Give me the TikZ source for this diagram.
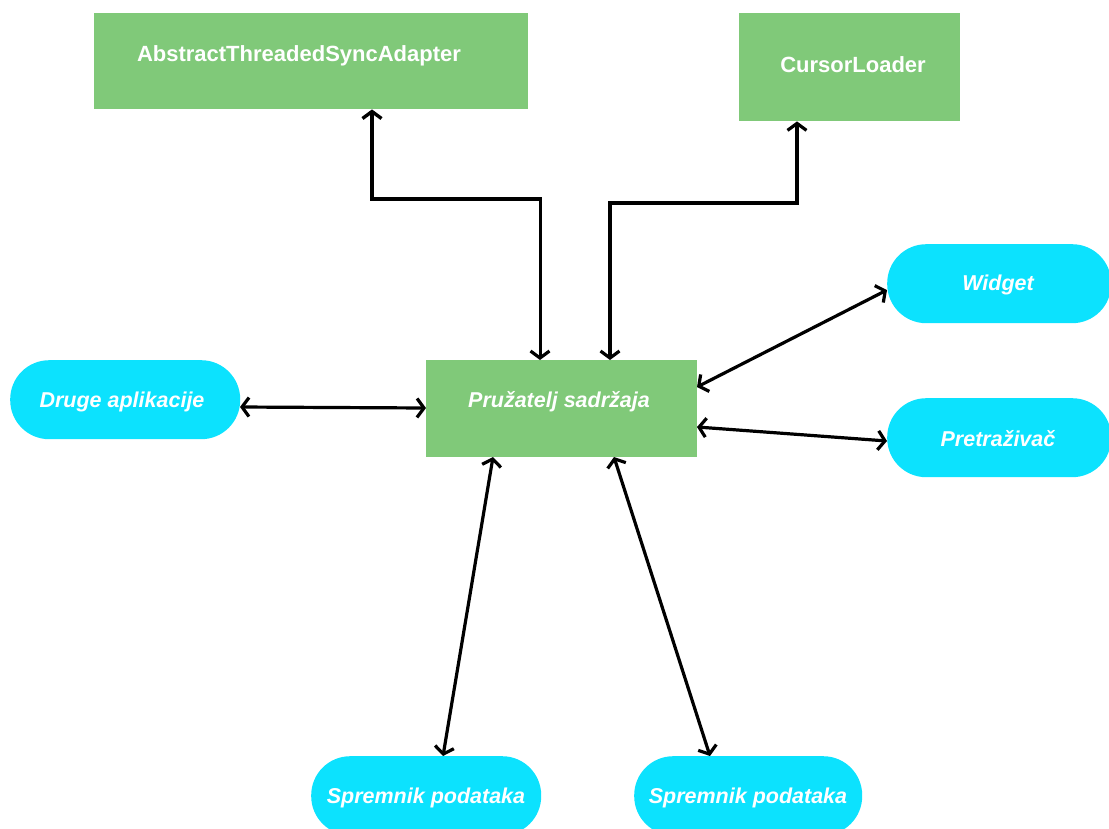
\documentclass[tikz,border=0pt]{standalone}
\usepackage{fontspec}
\setmainfont{Liberation Sans}
\usetikzlibrary{arrows.meta}
\definecolor{boxgreen}{HTML}{80C979}
\definecolor{pillcyan}{HTML}{0CE2FE}
\tikzset{
  greenbox/.style={fill=boxgreen, draw=none, inner sep=0pt, anchor=north west},
  pill/.style={fill=pillcyan, draw=none, rounded corners=39pt, inner sep=0pt, anchor=north west, minimum height=79pt},
  boxtext/.style={text=white, font=\bfseries\fontsize{22}{26}\selectfont, inner sep=0pt},
  pilltext/.style={text=white, font=\bfseries\itshape\fontsize{21.5}{26}\selectfont, inner sep=0pt},
  barb/.tip={Straight Barb[length=7pt,width=19pt,line width=3.2pt]},
  conn/.style={draw=black, line width=3.2pt, barb-barb},
}
\begin{document}
\begin{tikzpicture}[x=1pt,y=-1pt]
\useasboundingbox (0,0) rectangle (1109,828);
\clip (0,0) rectangle (1109,828);
% boxes
\node[greenbox, minimum width=434pt, minimum height=96pt] (atsa) at (94,13) {};
\node[boxtext] (atsat) at (299,56) {AbstractThreadedSyncAdapter};
\node[greenbox, minimum width=221pt, minimum height=108pt] (cl) at (739,13) {};
\node[boxtext] (clt) at (853,65) {CursorLoader};
\node[greenbox, minimum width=271pt, minimum height=97pt] (ps) at (426,360) {};
\node[pilltext] (pst) at (559,402) {Pružatelj sadržaja};
% pills
\node[pill, minimum width=230pt] (druge) at (10,360) {};
\node[pilltext] (druget) at (122,402) {Druge aplikacije};
\node[pill, minimum width=224pt] (widget) at (887,244) {};
\node[pilltext] (widgett) at (998,285) {Widget};
\node[pill, minimum width=224pt] (pret) at (887,398) {};
\node[pilltext] (prett) at (998,439) {Pretraživač};
\node[pill, minimum width=230pt] (sp1) at (311,756) {};
\node[pilltext] (sp1t) at (426,798) {Spremnik podataka};
\node[pill, minimum width=228pt] (sp2) at (634,756) {};
\node[pilltext] (sp2t) at (748,798) {Spremnik podataka};
% connectors
\coordinate (a1) at (540,199);
\coordinate (a2) at (372,199);
\draw[draw=black, line width=3pt, barb-] (ps.north west -| a1) -- (a1);
\draw[draw=black, line width=4.4pt, line join=miter, line cap=rect, -{Straight Barb[length=7pt,width=19pt,line width=3.4pt]}] (a1) -- (a2) -- (atsa.south west -| a2);
\coordinate (c1) at (610,203);
\coordinate (c2) at (797,203);
\draw[conn] (ps.north west -| c1) -- (c1) -- (c2) -- (cl.south west -| c2);
\coordinate (w1) at (697,387);
\coordinate (w2) at (887,290);
\draw[conn] (w1) -- (w2);
\coordinate (p1) at (697,427);
\coordinate (p2) at (887,441);
\draw[conn] (p1) -- (p2);
\coordinate (d1) at (240,407);
\coordinate (d2) at (426,408);
\draw[conn] (d1) -- (d2);
\coordinate (s1a) at (493,457);
\coordinate (s1b) at (443,756);
\draw[conn] (s1a) -- (s1b);
\coordinate (s2a) at (614,457);
\coordinate (s2b) at (710,756);
\draw[conn] (s2a) -- (s2b);
\end{tikzpicture}
\end{document}
